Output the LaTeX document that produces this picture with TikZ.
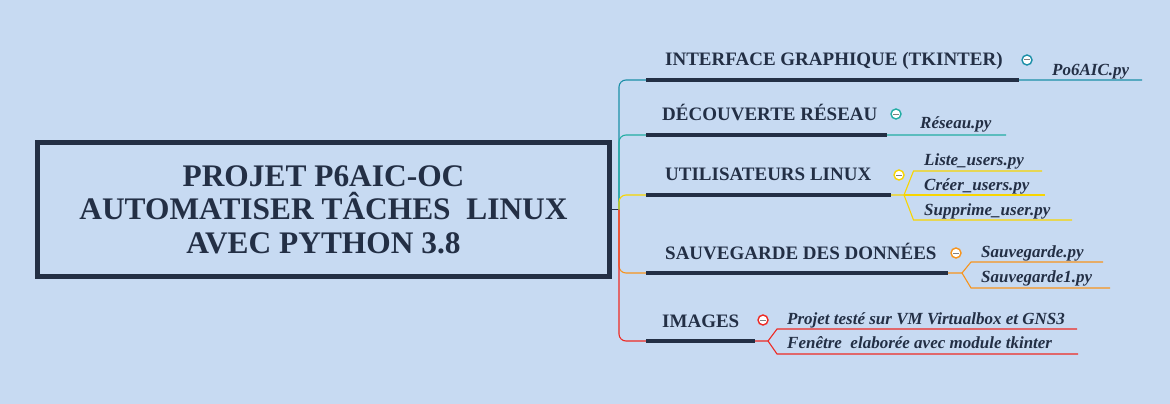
\documentclass[tikz,border=0pt]{standalone}
\usepackage{fontspec}
\setmainfont{Liberation Serif}
\definecolor{bg}{HTML}{C7DAF2}
\definecolor{navy}{HTML}{232F45}
\definecolor{cA}{HTML}{1B8FA8}
\definecolor{cB}{HTML}{22ADA3}
\definecolor{cC}{HTML}{F8D500}
\definecolor{cD}{HTML}{F7941D}
\definecolor{cE}{HTML}{EE2A24}
\begin{document}
\begin{tikzpicture}[x=1pt,y=-1pt,
  bar/.style={line width=3.8pt, draw=navy},
  wire/.style={line width=1.1pt, rounded corners=7pt},
  lbl/.style={anchor=base west, inner sep=0pt, text=navy, font=\fontsize{19}{22}\selectfont\bfseries},
  leaf/.style={anchor=base west, inner sep=0pt, text=navy, font=\fontsize{17}{20}\selectfont\bfseries\itshape},
  fold/.style={circle, draw=#1, fill=white, line width=1.4pt, minimum size=10pt, inner sep=0pt,
    path picture={\draw[gray, line width=1pt] ([xshift=-2.6pt]path picture bounding box.center) -- ([xshift=2.6pt]path picture bounding box.center);}},
]
\fill[bg] (0,0) rectangle (1170,404);
\useasboundingbox (0,0) rectangle (1170,404);

% central box
\node[draw=navy, line width=5pt, minimum width=572pt, minimum height=134pt, align=center, text=navy,
  font=\fontsize{31.4}{33.5}\selectfont\bfseries] (root) at (323.5,209.5)
  {PROJET P6AIC-OC\\AUTOMATISER TÂCHES\ \ LINUX\\AVEC PYTHON 3.8};

\coordinate (hub) at (619,209.5);
\draw[navy, line width=1.1pt] (root.east) -- (hub);

% branch coordinates
\coordinate (s1) at (646,80);   \coordinate (e1) at (1019,80);  \coordinate (t1) at (1142,80);
\coordinate (s2) at (646,135);  \coordinate (e2) at (887,135);  \coordinate (t2) at (1006,135);
\coordinate (s3) at (646,195);  \coordinate (e3) at (891,195);  \coordinate (f3) at (904,195);
\coordinate (s4) at (646,273);  \coordinate (e4) at (948,273);  \coordinate (f4) at (962,273);
\coordinate (s5) at (646,341);  \coordinate (e5) at (755,341);  \coordinate (f5) at (768,341);

% trunk wires
\draw[wire, cA] (hub) |- (t1);
\draw[wire, cB] (hub) |- (t2);
\draw[wire, cC] (hub) |- (f3);
\draw[wire, cD] (hub) |- (f4);
\draw[wire, cE] (hub) |- (f5);

% leaf wires
\coordinate (u31) at (1042,171); \coordinate (u32) at (1045,195); \coordinate (u33) at (1072,220);
\draw[line width=1.1pt, cC] (f3) -- (913.5,171) -- (u31);
\draw[line width=1.1pt, cC] (f3) -- (u32);
\draw[line width=1.1pt, cC] (f3) -- (913.5,220) -- (u33);
\coordinate (u41) at (1103,262); \coordinate (u42) at (1110,288);
\draw[line width=1.1pt, cD] (f4) -- (971,262) -- (u41);
\draw[line width=1.1pt, cD] (f4) -- (971,288) -- (u42);
\coordinate (u51) at (1077,329); \coordinate (u52) at (1078,354);
\draw[line width=1.1pt, cE] (f5) -- (777,329) -- (u51);
\draw[line width=1.1pt, cE] (f5) -- (777,354) -- (u52);

% bars
\draw[bar] (s1) -- (e1);
\draw[bar] (s2) -- (e2);
\draw[bar] (s3) -- (e3);
\draw[bar] (s4) -- (e4);
\draw[bar] (s5) -- (e5);

% labels
\node[lbl] (b1) at (665,66) {INTERFACE GRAPHIQUE (TKINTER)};
\node[lbl] (b2) at (662,120) {DÉCOUVERTE RÉSEAU};
\node[lbl] (b3) at (665,180) {UTILISATEURS LINUX};
\node[lbl] (b4) at (665,259) {SAUVEGARDE DES DONNÉES};
\node[lbl] (b5) at (662,327) {IMAGES};

% fold markers
\node[fold=cA] (o1) at (1027,60) {};
\node[fold=cB] (o2) at (896,114) {};
\node[fold=cC] (o3) at (899,175) {};
\node[fold=cD] (o4) at (956,253) {};
\node[fold=cE] (o5) at (763,320) {};

% leaves
\node[leaf] (l1) at (1052,75) {Po6AIC.py};
\node[leaf] (l2) at (920,128) {Réseau.py};
\node[leaf] (l31) at (924,165) {Liste\_users.py};
\node[leaf] (l32) at (924,190) {Créer\_users.py};
\node[leaf] (l33) at (924,215) {Supprime\_user.py};
\node[leaf] (l41) at (981,257) {Sauvegarde.py};
\node[leaf] (l42) at (981,282) {Sauvegarde1.py};
\node[leaf] (l51) at (787,324) {Projet testé sur VM Virtualbox et GNS3};
\node[leaf] (l52) at (787,348) {Fenêtre\ \ elaborée avec module tkinter};
\end{tikzpicture}
\end{document}
